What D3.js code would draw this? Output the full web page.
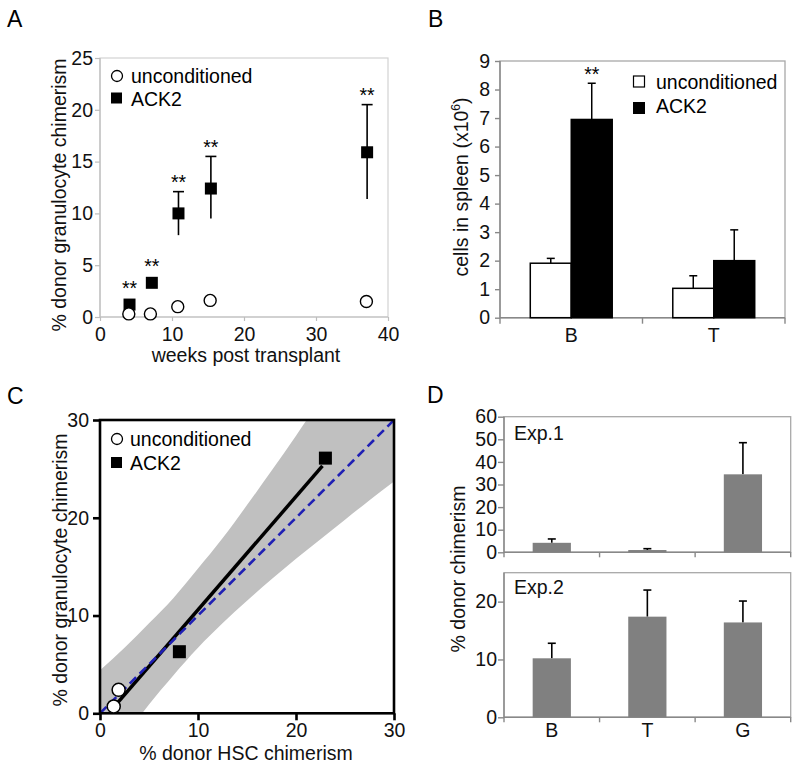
<!DOCTYPE html>
<html>
<head>
<meta charset="utf-8">
<title>Donor chimerism after ACK2 conditioning</title>
<style>
  body{ margin:0; background:#fff; }
  svg{ display:block; font-family:'Liberation Sans', Arial, sans-serif; font-size:19.5px; }
</style>
</head>
<body>
<div id="chart"></div>
<script src="https://d3js.org/d3.v7.min.js"></script>
<script>
// ---- panel A: granulocyte chimerism over time
var weeksUncond = [4.0, 7.0, 10.8, 15.3, 37.0];
var chimUncond  = [0.3, 0.3, 1.0, 1.6, 1.5];
var weeksAck2   = [4.1, 7.2, 10.9, 15.4, 37.1];
var chimAck2    = [1.2, 3.3, 10.0, 12.4, 15.9];
var ack2Low     = [null, null, 7.9, 9.5, 11.4];
var ack2High    = [null, null, 12.1, 15.5, 20.5];
var weekTicks   = [0, 10, 20, 30, 40];
var chimTicksA  = [0, 5, 10, 15, 20, 25];

// ---- panel B: cells in spleen
var cellTypesB      = ["B", "T"];
var groupsB         = ["unconditioned", "ACK2"];
var spleenUncond    = [1.91, 1.03];
var spleenUncondTop = [2.08, 1.47];
var spleenAck2      = [6.95, 2.00];
var spleenAck2Top   = [8.22, 3.08];
var spleenTicks     = [0, 1, 2, 3, 4, 5, 6, 7, 8, 9];

// ---- panel C: HSC vs granulocyte chimerism
var hscUncond  = [1.4, 1.9];
var granUncond = [0.7, 2.4];
var hscAck2    = [8.1, 23.0];
var granAck2   = [6.3, 26.1];
var fitX       = [1.3, 22.7];
var fitY       = [0.5, 25.3];
var bandX      = [0, 2.5, 5, 7.5, 10, 12.5, 15, 17.5, 20, 22.5, 25, 27.5, 30];
var bandUpper  = [4.4, 6.7, 9.2, 11.8, 14.8, 17.9, 21.3, 24.8, 28.4, 32.1, 35.8, 39.5, 43.3];
var bandLower  = [-5.8, -2.4, 0.9, 3.9, 6.7, 9.2, 11.5, 13.7, 15.8, 17.8, 19.8, 21.8, 23.7];
var cTicks     = [0, 10, 20, 30];

// ---- panel D: two experiments
var cellTypesD = ["B", "T", "G"];
var exp1       = [4.2, 1.0, 34.5];
var exp1Top    = [5.9, 1.6, 48.5];
var exp2       = [10.2, 17.4, 16.4];
var exp2Top    = [12.8, 22.0, 20.1];
var exp1Ticks  = [0, 10, 20, 30, 40, 50, 60];
var exp2Ticks  = [0, 10, 20];

var svg = d3.select("#chart").append("svg")
    .attr("width", 800)
    .attr("height", 769);

function cleanAxis(g, tickColor, tickWidth) {
  g.attr("font-family", null).attr("font-size", null);
  g.select(".domain").remove();
  g.selectAll(".tick line").attr("stroke", tickColor).attr("stroke-width", tickWidth);
  g.selectAll(".tick text").attr("fill", "#111");
}

function panelLabel(t, x, y) {
  svg.append("text").attr("x", x).attr("y", y).attr("font-size", 23).text(t);
}

function yLabel(t, x, y) {
  return svg.append("text")
    .attr("transform", "translate(" + x + "," + y + ") rotate(-90)")
    .attr("text-anchor", "middle")
    .attr("fill", "#111")
    .text(t);
}

function errBar(g, x, y0, y1, cap, w) {
  g.append("line").attr("x1", x).attr("x2", x).attr("y1", y0).attr("y2", y1)
    .attr("stroke", "#000").attr("stroke-width", w);
  g.append("line").attr("x1", x - cap / 2).attr("x2", x + cap / 2).attr("y1", y1).attr("y2", y1)
    .attr("stroke", "#000").attr("stroke-width", w);
}

/* ================= A ================= */
panelLabel("A", 7, 27);
var xA = d3.scaleLinear().domain([0, 40]).range([100, 388]);
var yA = d3.scaleLinear().domain([0, 25]).range([317, 58]);
var gA = svg.append("g");

gA.append("rect")
  .attr("x", xA(0)).attr("y", yA(25))
  .attr("width", xA(40) - xA(0)).attr("height", yA(0) - yA(25))
  .attr("fill", "none").attr("stroke", "#d2d2d2").attr("stroke-width", 1.2);
gA.append("line").attr("x1", xA(0)).attr("x2", xA(0)).attr("y1", yA(0)).attr("y2", yA(25))
  .attr("stroke", "#bdbdbd").attr("stroke-width", 1.2);
gA.append("line").attr("x1", xA(0)).attr("x2", xA(40)).attr("y1", yA(0)).attr("y2", yA(0))
  .attr("stroke", "#bdbdbd").attr("stroke-width", 1.2);

gA.append("g").attr("transform", "translate(" + xA(0) + ",0)")
  .call(d3.axisLeft(yA).tickValues(chimTicksA).tickSize(5).tickPadding(2))
  .call(cleanAxis, "#bdbdbd", 1.2);
gA.append("g").attr("transform", "translate(0," + yA(0) + ")")
  .call(d3.axisBottom(xA).tickValues(weekTicks).tickSize(4).tickPadding(6))
  .call(cleanAxis, "#bdbdbd", 1.2);

yLabel("% donor  granulocyte chimerism", 66, 195);
svg.append("text").attr("x", 246).attr("y", 362).attr("text-anchor", "middle")
  .attr("fill", "#111").text("weeks post transplant");

// ACK2 error bars, squares, stars
weeksAck2.forEach(function(w, i) {
  var cx = xA(w), cy = yA(chimAck2[i]);
  var top = cy - 10;
  if (ack2High[i] != null) {
    errBar(gA, cx, yA(ack2Low[i]), yA(ack2High[i]), 11, 1.6);
    top = yA(ack2High[i]) - 2.5;
  }
  gA.append("rect").attr("x", cx - 6).attr("y", cy - 6).attr("width", 12).attr("height", 12)
    .attr("fill", "#000");
  gA.append("text").attr("x", cx).attr("y", top).attr("text-anchor", "middle").text("**");
});
weeksUncond.forEach(function(w, i) {
  gA.append("circle").attr("cx", xA(w)).attr("cy", yA(chimUncond[i])).attr("r", 6)
    .attr("fill", "#fff").attr("stroke", "#000").attr("stroke-width", 1.4);
});

// legend A
gA.append("circle").attr("cx", 117).attr("cy", 76).attr("r", 5.5)
  .attr("fill", "#fff").attr("stroke", "#000").attr("stroke-width", 1.3);
gA.append("text").attr("x", 131).attr("y", 83).text("unconditioned");
gA.append("rect").attr("x", 111).attr("y", 92.5).attr("width", 11).attr("height", 11).attr("fill", "#000");
gA.append("text").attr("x", 131).attr("y", 106).text("ACK2");

/* ================= B ================= */
panelLabel("B", 428, 27);
var xB = d3.scaleBand().domain(cellTypesB).range([500, 785]).paddingInner(0.425).paddingOuter(0.2125);
var subB = d3.scaleBand().domain(groupsB).range([0, xB.bandwidth()]);
var yB = d3.scaleLinear().domain([0, 9]).range([317.7, 61]);
var gB = svg.append("g");

gB.append("rect")
  .attr("x", 500).attr("y", yB(9))
  .attr("width", 285).attr("height", yB(0) - yB(9))
  .attr("fill", "none").attr("stroke", "#a8a8a8").attr("stroke-width", 1.3);
gB.append("line").attr("x1", 500).attr("x2", 500).attr("y1", yB(0)).attr("y2", yB(9))
  .attr("stroke", "#888").attr("stroke-width", 1.4);
gB.append("line").attr("x1", 500).attr("x2", 785).attr("y1", yB(0)).attr("y2", yB(0))
  .attr("stroke", "#888").attr("stroke-width", 1.4);

gB.append("g").attr("transform", "translate(500,0)")
  .call(d3.axisLeft(yB).tickValues(spleenTicks).tickSize(5).tickPadding(5))
  .call(cleanAxis, "#888", 1.4);
gB.append("g").attr("transform", "translate(0," + yB(0) + ")")
  .call(d3.axisBottom(xB).tickSize(0).tickPadding(10.5))
  .call(cleanAxis, "#888", 1.4);
d3.range(cellTypesB.length + 1).forEach(function(i) {
  var bx = xB.range()[0] + i * xB.step();
  gB.append("line").attr("x1", bx).attr("x2", bx).attr("y1", yB(0)).attr("y2", yB(0) + 6)
    .attr("stroke", "#888").attr("stroke-width", 1.4);
});

var ylB = yLabel("cells in spleen (x10", 468, 187);
ylB.append("tspan").attr("font-size", 12).attr("dy", -8).text("6");
ylB.append("tspan").attr("dy", 8).text(")");

cellTypesB.forEach(function(c, i) {
  var x0 = xB(c);
  var bw = subB.bandwidth();
  var xu = x0 + subB("unconditioned"), xk = x0 + subB("ACK2");
  errBar(gB, xu + bw / 2, yB(spleenUncond[i]), yB(spleenUncondTop[i]), 8, 1.5);
  errBar(gB, xk + bw / 2, yB(spleenAck2[i]), yB(spleenAck2Top[i]), 8, 1.5);
  gB.append("rect").attr("x", xu).attr("y", yB(spleenUncond[i]))
    .attr("width", bw).attr("height", yB(0) - yB(spleenUncond[i]))
    .attr("fill", "#fff").attr("stroke", "#000").attr("stroke-width", 1.5);
  gB.append("rect").attr("x", xk).attr("y", yB(spleenAck2[i]))
    .attr("width", bw).attr("height", yB(0) - yB(spleenAck2[i]))
    .attr("fill", "#000").attr("stroke", "#000").attr("stroke-width", 1.5);
});
gB.append("text").attr("x", xB("B") + subB("ACK2") + subB.bandwidth() / 2)
  .attr("y", yB(spleenAck2Top[0]) - 2.5).attr("text-anchor", "middle").text("**");

// legend B
gB.append("rect").attr("x", 633.5).attr("y", 76).attr("width", 11).attr("height", 11)
  .attr("fill", "#fff").attr("stroke", "#000").attr("stroke-width", 1.2);
gB.append("text").attr("x", 656).attr("y", 89).text("unconditioned");
gB.append("rect").attr("x", 633).attr("y", 102).attr("width", 12).attr("height", 12).attr("fill", "#000");
gB.append("text").attr("x", 656).attr("y", 113).text("ACK2");

/* ================= C ================= */
panelLabel("C", 7, 404);
var xC = d3.scaleLinear().domain([0, 30]).range([100, 394]);
var yC = d3.scaleLinear().domain([0, 30]).range([713.3, 420]);
var gC = svg.append("g");

svg.append("clipPath").attr("id", "clipC").append("rect")
  .attr("x", xC(0)).attr("y", yC(30)).attr("width", xC(30) - xC(0)).attr("height", yC(0) - yC(30));

var band = d3.area()
  .curve(d3.curveMonotoneX)
  .x(function(d) { return xC(d[0]); })
  .y0(function(d) { return yC(d[1]); })
  .y1(function(d) { return yC(d[2]); });
gC.append("path")
  .datum(bandX.map(function(x, i) { return [x, bandLower[i], bandUpper[i]]; }))
  .attr("clip-path", "url(#clipC)")
  .attr("fill", "#c0c0c0")
  .attr("d", band);

gC.append("line")
  .attr("x1", xC(fitX[0])).attr("y1", yC(fitY[0]))
  .attr("x2", xC(fitX[1])).attr("y2", yC(fitY[1]))
  .attr("stroke", "#000").attr("stroke-width", 3.5);
gC.append("line")
  .attr("x1", xC(0)).attr("y1", yC(0))
  .attr("x2", xC(30)).attr("y2", yC(30))
  .attr("stroke", "#1f1fb4").attr("stroke-width", 2.6).attr("stroke-dasharray", "9,5");

gC.append("rect")
  .attr("x", xC(0)).attr("y", yC(30))
  .attr("width", xC(30) - xC(0)).attr("height", yC(0) - yC(30))
  .attr("fill", "none").attr("stroke", "#000").attr("stroke-width", 2.6);

gC.append("g").attr("transform", "translate(" + xC(0) + ",0)")
  .call(d3.axisLeft(yC).tickValues(cTicks).tickSize(7).tickPadding(4))
  .call(cleanAxis, "#000", 2.6);
gC.append("g").attr("transform", "translate(0," + yC(0) + ")")
  .call(d3.axisBottom(xC).tickValues(cTicks).tickSize(7).tickPadding(3))
  .call(cleanAxis, "#000", 2.6);

yLabel("% donor granulocyte chimerism", 67, 570);
svg.append("text").attr("x", 246).attr("y", 760).attr("text-anchor", "middle")
  .attr("fill", "#111").text("% donor HSC chimerism");

hscAck2.forEach(function(h, i) {
  gC.append("rect").attr("x", xC(h) - 6.5).attr("y", yC(granAck2[i]) - 6.5)
    .attr("width", 13).attr("height", 13).attr("fill", "#000");
});
hscUncond.forEach(function(h, i) {
  gC.append("circle").attr("cx", xC(h)).attr("cy", yC(granUncond[i])).attr("r", 6.5)
    .attr("fill", "#fff").attr("stroke", "#000").attr("stroke-width", 1.5);
});

// legend C
gC.append("circle").attr("cx", 117).attr("cy", 439).attr("r", 5.5)
  .attr("fill", "#fff").attr("stroke", "#000").attr("stroke-width", 1.3);
gC.append("text").attr("x", 130).attr("y", 446).text("unconditioned");
gC.append("rect").attr("x", 111).attr("y", 457).attr("width", 11).attr("height", 11).attr("fill", "#000");
gC.append("text").attr("x", 130).attr("y", 469.5).text("ACK2");

/* ================= D ================= */
panelLabel("D", 427, 403);
var xD = d3.scaleBand().domain(cellTypesD).range([504, 790.7]).paddingInner(0.6).paddingOuter(0.3);
var yD1 = d3.scaleLinear().domain([0, 60]).range([552.3, 416.7]);
var yD2 = d3.scaleLinear().domain([0, 25]).range([717.3, 572.7]);

function drawExp(yS, vals, tops, ticks, name, nameY, showLabels) {
  var g = svg.append("g");
  g.append("rect")
    .attr("x", 504).attr("y", yS.range()[1])
    .attr("width", 790.7 - 504).attr("height", yS.range()[0] - yS.range()[1])
    .attr("fill", "none").attr("stroke", "#a8a8a8").attr("stroke-width", 1.3);
  g.append("line").attr("x1", 504).attr("x2", 504).attr("y1", yS.range()[0]).attr("y2", yS.range()[1])
    .attr("stroke", "#888").attr("stroke-width", 1.4);
  g.append("line").attr("x1", 504).attr("x2", 790.7).attr("y1", yS.range()[0]).attr("y2", yS.range()[0])
    .attr("stroke", "#888").attr("stroke-width", 1.4);
  g.append("g").attr("transform", "translate(504,0)")
    .call(d3.axisLeft(yS).tickValues(ticks).tickSize(6).tickPadding(1))
    .call(cleanAxis, "#888", 1.4);
  d3.range(cellTypesD.length + 1).forEach(function(i) {
    var bx = xD.range()[0] + i * xD.step();
    g.append("line").attr("x1", bx).attr("x2", bx).attr("y1", yS(0)).attr("y2", yS(0) + 5)
      .attr("stroke", "#888").attr("stroke-width", 1.4);
  });
  if (showLabels) {
    g.append("g").attr("transform", "translate(0," + yS(0) + ")")
      .call(d3.axisBottom(xD).tickSize(0).tickPadding(6))
      .call(cleanAxis, "#888", 1.4);
  }
  cellTypesD.forEach(function(c, i) {
    errBar(g, xD(c) + xD.bandwidth() / 2, yS(vals[i]), yS(tops[i]), 8, 1.6);
    g.append("rect").attr("x", xD(c)).attr("y", yS(vals[i]))
      .attr("width", xD.bandwidth()).attr("height", yS(0) - yS(vals[i]))
      .attr("fill", "#808080");
  });
  g.append("text").attr("x", 514).attr("y", nameY).attr("fill", "#111").text(name);
}
drawExp(yD1, exp1, exp1Top, exp1Ticks, "Exp.1", 440, false);
drawExp(yD2, exp2, exp2Top, exp2Ticks, "Exp.2", 594, true);

yLabel("% donor chimerism", 465, 569);
</script>
</body>
</html>
